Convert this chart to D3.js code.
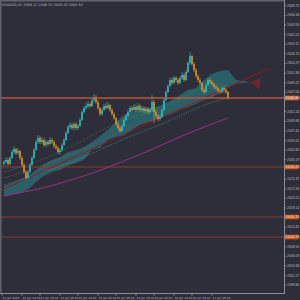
<!DOCTYPE html>
<html lang="en">
<head>
<meta charset="UTF-8">
<title>XAUUSD H1</title>
<script src="https://cdn.jsdelivr.net/npm/d3@7"></script>
<style>
  body { margin: 0; background: #2d2e39; }
  svg { display: block; font-family: "DejaVu Sans", sans-serif; }
</style>
</head>
<body>
<script>
// candle data (H1), open of each bar = close of the previous one
var firstOpen = 2029.0;
var closes = [2029.5,2030,2029,2030.5,2032,2032.75,2031.75,2032.25,2030.5,2028.75,
  2027,2025.5,2027,2028.75,2030.5,2032.5,2034.5,2035.5,2034.5,2035,
  2033.75,2034.5,2034,2035,2034.5,2033.5,2033,2032,2032.5,2033.75,
  2035,2036.75,2038.25,2038.75,2038,2039,2038,2038.5,2040,2042,
  2043,2043.5,2044,2043.5,2045,2045.75,2044.5,2043,2041.5,2042.5,
  2043.5,2043,2043.75,2042.5,2041.5,2040.5,2039,2038,2037.25,2038.5,
  2040,2041,2042,2043,2042.5,2043.25,2042.5,2043.5,2042.5,2043,
  2042.25,2042.75,2042,2042.5,2044.5,2042,2041,2040.25,2040.75,2042.5,
  2045,2047,2048.5,2050,2049.25,2050.5,2050,2049.25,2050.5,2051.25,
  2050,2052,2054.25,2056,2054,2052.5,2051,2050,2049.25,2047.5,
  2047,2048.75,2050,2049.5,2049,2048.25,2048,2047.25,2047,2048,
  2047.5,2047,2045.5];
var highs = [2030,2030.75,2030.5,2031,2032.5,2033.5,2033,2033,2032.5,2031,
  2029.25,2027.5,2027.5,2029.25,2031,2033,2035,2036.25,2036,2035.75,
  2035.5,2035,2035,2035.75,2035.5,2035,2034,2033.5,2033,2034.25,
  2035.5,2037.25,2038.75,2039.5,2039.25,2039.5,2039.5,2039,2040.5,2042.5,
  2043.5,2044.25,2044.75,2044.5,2045.5,2046.5,2046.25,2045,2043.25,2043,
  2044,2044.25,2044.5,2044,2043,2042,2040.75,2039.5,2038.5,2039,
  2040.5,2041.5,2042.5,2043.5,2043.5,2044,2043.75,2044.25,2044,2043.5,
  2043.5,2043.25,2043.25,2043,2046.25,2045,2042.5,2041.5,2041.5,2043,
  2045.5,2047.5,2049,2050.5,2050.75,2051,2051,2050.5,2051,2052,
  2051.75,2052.5,2054.75,2057,2056.25,2054.5,2053,2051.5,2050.5,2049.5,
  2048,2049.25,2050.5,2050.5,2050,2049.5,2048.75,2048.5,2047.75,2048.5,
  2048.5,2048,2047.25];
var lows = [2028.5,2029.25,2028.5,2028.75,2030.25,2031.5,2031.25,2031.25,2030,2028.25,
  2026.5,2025,2025.25,2026.75,2028.5,2030.25,2032.25,2034,2034,2034,
  2033.25,2033.25,2033.5,2033.75,2034,2033,2032.5,2031.5,2031.25,2032,
  2033.5,2034.75,2036.5,2037.75,2037.5,2037.5,2037.5,2037.5,2038.25,2039.75,
  2041.5,2042.5,2043,2043,2043.25,2044.5,2044,2042.5,2041,2041,
  2042.25,2042.5,2042.75,2042,2041,2040,2038.5,2037.5,2036.75,2037,
  2038.25,2039.75,2040.75,2041.75,2042,2042.25,2042,2042.25,2042,2042,
  2041.75,2041.75,2041.5,2041.5,2042,2039.25,2040.5,2039.75,2039.75,2040.5,
  2042.25,2044.75,2046.75,2048.25,2048.75,2049,2049.5,2048.75,2049,2050,
  2049.5,2049.75,2051.75,2053.75,2053.5,2052,2050.5,2049.5,2048.75,2047,
  2046.5,2046.75,2048.5,2049,2048.5,2047.75,2047.5,2046.75,2046.5,2046.75,
  2047,2046.5,2045];

// ichimoku cloud (already shifted forward), sampled every 4 bars
var cloudBars = [0,4,8,12,16,20,24,28,32,36,40,44,48,52,56,60,64,68,72,76,80,84,88,92,96,100,104,108,112,116,120,124,128];
var spanA = [2023.5,2024.25,2025,2026,2027.5,2029,2030,2030.75,2032,2032.5,2033.25,2034.5,2036,2037.5,2039.5,2041.25,2042,
  2042.5,2043,2043.25,2044,2045,2046.25,2047.5,2048,2050,2051.5,2052.25,2052.5,2050,2049.75,2049.25,2047.5];
var spanB = [2020.75,2021.25,2021.75,2022.5,2024.5,2026,2027,2027.5,2028.5,2029.25,2030,2032.5,2033,2035,2035.75,2036,2037.5,
  2038.75,2039.5,2040,2041,2041.5,2042.5,2043.25,2044,2045,2045.5,2047,2048,2049,2049.25,2049.5,2050.5];

// moving averages, sampled
var slowBars = [0,10,20,30,40,50,60,70,80,90,100,112];
var slowMA = [2021,2022,2023,2024.5,2026,2027.75,2029.75,2031.75,2034,2036.25,2038.25,2040.5];
var maBars = [0,20,40,60,80,100,112];
var greenMA = [2027,2030,2035,2040.5,2042.5,2049,2048.75];
var pinkMA = [2025.5,2028.75,2032.5,2038,2040.5,2046,2047];
var cyanMA = [2023.75,2027,2030.5,2035.5,2039,2044,2045.5];

// trend line (bar, price) and horizontal levels
var trendBars = [-1, 133];
var trendPrices = [2022.5, 2053];
var bidPrice = 2045.5;
var levels = [2028.25, 2015.75, 2010.75];

// axis labels
var priceTicks = [2068.75,2066.34,2063.93,2061.52,2059.11,2056.70,2054.29,2051.88,2049.47,2047.06,
  2044.65,2042.24,2039.83,2037.42,2035.01,2032.60,2030.19,2027.78,2025.37,2022.96,
  2020.55,2018.14,2015.73,2013.32,2010.91,2008.50,2006.09,2003.68,2001.27,1998.86];
var dateBars = [-1,9,18,28,37,47,56,66,75,85,94,104];
var dateLabels = ["11 Jan 2024","11 Jan 10:00","11 Jan 19:00","12 Jan 05:00","12 Jan 14:00","15 Jan 00:00",
  "15 Jan 09:00","15 Jan 19:00","16 Jan 04:00","16 Jan 14:00","16 Jan 23:00","17 Jan 09:00"];
var title = "XAUUSD,H1  2046.12 2046.35 2045.20 2045.50";

var W = 300, H = 300, plotR = 284, plotB = 293;

var x = d3.scaleLinear().domain([0, 112]).range([4, 228]);
var y = d3.scaleLinear().domain([2070, 2070 - plotB / 4]).range([0, plotB]);

var svg = d3.select("body").append("svg").attr("width", W).attr("height", H);
svg.append("rect").attr("width", W).attr("height", H).attr("fill", "#2d2e39");

var defs = svg.append("defs");
defs.append("clipPath").attr("id", "plot")
  .append("rect").attr("x", 1).attr("y", 1).attr("width", plotR - 1).attr("height", plotB - 1);

var cloud = cloudBars.map(function(b, i) { return {b: b, a: spanA[i], s: spanB[i]}; });
defs.append("clipPath").attr("id", "aboveB").append("path")
  .attr("d", d3.area().x(function(d) { return x(d.b); }).y0(0).y1(function(d) { return y(d.s); })(cloud));
defs.append("clipPath").attr("id", "belowB").append("path")
  .attr("d", d3.area().x(function(d) { return x(d.b); }).y0(plotB).y1(function(d) { return y(d.s); })(cloud));

var g = svg.append("g").attr("clip-path", "url(#plot)");

// cloud
var between = d3.area().x(function(d) { return x(d.b); })
  .y0(function(d) { return y(d.s); }).y1(function(d) { return y(d.a); });
g.append("g").attr("clip-path", "url(#aboveB)").append("path")
  .attr("d", between(cloud)).attr("fill", "#2a8f98").attr("fill-opacity", 0.5);
g.append("g").attr("clip-path", "url(#belowB)").append("path")
  .attr("d", between(cloud)).attr("fill", "#8e1f2c").attr("fill-opacity", 0.75);

// horizontal levels
levels.forEach(function(p) {
  g.append("line").attr("x1", 0).attr("x2", plotR).attr("y1", y(p)).attr("y2", y(p))
    .attr("stroke", "#8f3b28").attr("stroke-width", 1);
});

// moving averages
var line = d3.line().curve(d3.curveBasis)
  .x(function(d) { return x(d[0]); }).y(function(d) { return y(d[1]); });
g.append("path").attr("d", line(slowBars.map(function(b, i) { return [b, slowMA[i]]; })))
  .attr("fill", "none").attr("stroke", "#9c2f7e").attr("stroke-width", 1);
[[greenMA, "#3f8f3a"], [pinkMA, "#a0585a"], [cyanMA, "#5aa6b0"]].forEach(function(s) {
  g.append("path").attr("d", line(maBars.map(function(b, i) { return [b, s[0][i]]; })))
    .attr("fill", "none").attr("stroke", s[1]).attr("stroke-width", 0.7)
    .attr("stroke-dasharray", "1,1").attr("stroke-opacity", 0.85);
});

// trend line
g.append("line")
  .attr("x1", x(trendBars[0])).attr("y1", y(trendPrices[0]))
  .attr("x2", x(trendBars[1])).attr("y2", y(trendPrices[1]))
  .attr("stroke", "#8a1c22").attr("stroke-width", 1);

// candles
var candles = closes.map(function(c, i) {
  return {i: i, o: i ? closes[i - 1] : firstOpen, c: c, h: highs[i], l: lows[i]};
});
var cg = g.selectAll(".candle").data(candles).enter().append("g");
cg.append("line")
  .attr("x1", function(d) { return x(d.i); }).attr("x2", function(d) { return x(d.i); })
  .attr("y1", function(d) { return y(d.h); }).attr("y2", function(d) { return y(d.l); })
  .attr("stroke", function(d) { return d.c >= d.o ? "#2fc3cf" : "#e39b2d"; })
  .attr("stroke-width", 0.6);
cg.append("rect")
  .attr("x", function(d) { return x(d.i) - 0.7; }).attr("width", 1.4)
  .attr("y", function(d) { return y(Math.max(d.o, d.c)); })
  .attr("height", function(d) { return Math.max(0.5, Math.abs(y(d.o) - y(d.c))); })
  .attr("fill", function(d) { return d.c >= d.o ? "#2fc3cf" : "#e39b2d"; });

// bid line
g.append("line").attr("x1", 0).attr("x2", plotR).attr("y1", y(bidPrice)).attr("y2", y(bidPrice))
  .attr("stroke", "#b8593a").attr("stroke-width", 1.6);

// frame
svg.append("rect").attr("x", 0).attr("y", 0).attr("width", plotR).attr("height", 1.5).attr("fill", "#62636d");
svg.append("line").attr("x1", 0.8).attr("x2", 0.8).attr("y1", 0).attr("y2", plotB).attr("stroke", "#62636d").attr("stroke-width", 1.5);
svg.append("line").attr("x1", plotR + 0.5).attr("x2", plotR + 0.5).attr("y1", 0).attr("y2", plotB + 0.5).attr("stroke", "#8a8b93");
svg.append("line").attr("x1", 0).attr("x2", plotR + 1).attr("y1", plotB + 0.5).attr("y2", plotB + 0.5).attr("stroke", "#8a8b93");

// title
svg.append("text").attr("x", 2).attr("y", 5.5).attr("font-size", 3.4).attr("fill", "#b9bac0").text(title);

// highlighted prices replace the plain tick labels next to them
var marks = levels.concat([bidPrice]);
var plainTicks = priceTicks.filter(function(t) {
  return marks.every(function(m) { return Math.abs(y(t) - y(m)) > 5; });
});

// price axis
var yAxis = d3.axisRight(y).tickValues(plainTicks).tickSize(2).tickPadding(1)
  .tickFormat(function(d) { return d.toFixed(2); });
var ya = svg.append("g").attr("transform", "translate(" + plotR + ",0)").call(yAxis);
ya.select(".domain").remove();
ya.selectAll("line").attr("stroke", "#8a8b93");
ya.selectAll("text").attr("font-size", 3.4).attr("fill", "#b9bac0");

marks.forEach(function(p) {
  svg.append("rect").attr("x", plotR + 1).attr("y", y(p) - 2.3).attr("width", 13.5).attr("height", 4.6)
    .attr("fill", p === bidPrice ? "#c96a3e" : "#d4561c");
  svg.append("text").attr("x", plotR + 1.6).attr("y", y(p) + 1.2).attr("font-size", 3.4)
    .attr("fill", "#f3f3f3").text(p.toFixed(2));
});

// time axis
var xa = svg.append("g").attr("transform", "translate(0," + (plotB + 1) + ")");
dateBars.forEach(function(b, i) {
  xa.append("line").attr("x1", x(b)).attr("x2", x(b)).attr("y1", 0).attr("y2", 1.5).attr("stroke", "#8a8b93");
  xa.append("text").attr("x", x(b) + 0.5).attr("y", 4.6).attr("font-size", 2.8)
    .attr("fill", "#b9bac0").text(dateLabels[i]);
});
</script>
</body>
</html>
